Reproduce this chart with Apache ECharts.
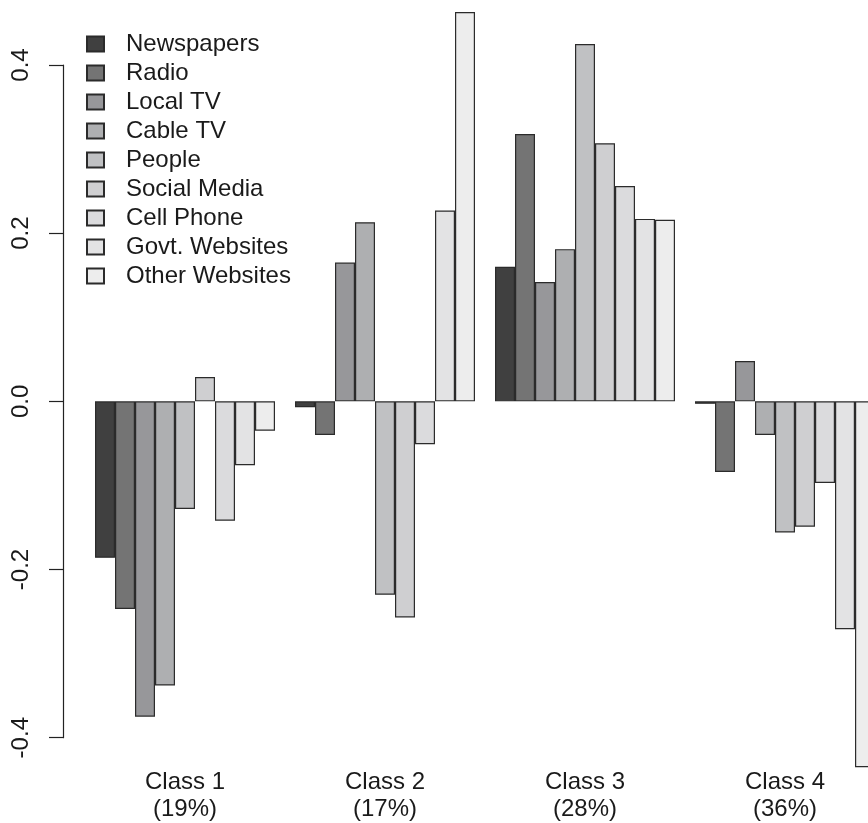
<!DOCTYPE html>
<html>
<head>
<meta charset="utf-8">
<script src="https://cdn.jsdelivr.net/npm/echarts@6/dist/echarts.min.js"></script>
<style>
html,body{margin:0;padding:0;background:#fff;}
#chart{width:868px;height:823px;}
</style>
</head>
<body>
<div id="chart"></div>
<script>
const categories = ["Class 1\n(19%)", "Class 2\n(17%)", "Class 3\n(28%)", "Class 4\n(36%)"];
const sources = ["Newspapers", "Radio", "Local TV", "Cable TV", "People", "Social Media", "Cell Phone", "Govt. Websites", "Other Websites"];
const newspapers    = [-0.186, -0.007, 0.160, -0.003];
const radio         = [-0.247, -0.040, 0.318, -0.084];
const localTV       = [-0.375, 0.165, 0.142, 0.048];
const cableTV       = [-0.338, 0.213, 0.181, -0.040];
const people        = [-0.128, -0.230, 0.425, -0.156];
const socialMedia   = [0.029, -0.257, 0.307, -0.149];
const cellPhone     = [-0.142, -0.051, 0.256, -0.097];
const govtWebsites  = [-0.076, 0.227, 0.217, -0.271];
const otherWebsites = [-0.035, 0.463, 0.216, -0.435];
const yTicks = [-0.4, -0.2, 0.0, 0.2, 0.4];

const seriesValues = [newspapers, radio, localTV, cableTV, people, socialMedia, cellPhone, govtWebsites, otherWebsites];
const colors = ["#404040", "#747474", "#97979a", "#aeafb1", "#c0c1c3", "#cfcfd1", "#dbdbdd", "#e3e3e4", "#ededed"];

const font = "Liberation Sans, Arial, Helvetica, sans-serif";
const chart = echarts.init(document.getElementById('chart'), null, {renderer: 'canvas'});
chart.setOption({
  animation: false,
  backgroundColor: '#ffffff',
  color: colors,
  legend: {
    orient: 'vertical',
    left: 81,
    top: 27,
    icon: 'rect',
    itemWidth: 17,
    itemHeight: 15,
    itemGap: 5,
    data: sources,
    textStyle: {fontFamily: font, fontSize: 24, color: '#1a1a1a', lineHeight: 24, padding: [0, 0, 0, 17]}
  },
  grid: {left: 85, top: 65, width: 800, height: 672.7, containLabel: false, outerBoundsMode: 'none'},
  xAxis: {
    type: 'category',
    data: categories,
    axisLine: {show: false},
    axisTick: {show: false},
    axisLabel: {fontFamily: font, fontSize: 24, color: '#1a1a1a', margin: 31, lineHeight: 27, interval: 0}
  },
  yAxis: {
    type: 'value',
    min: yTicks[0],
    max: yTicks[yTicks.length - 1],
    interval: 0.2,
    offset: 22,
    axisLine: {show: true, lineStyle: {color: '#222', width: 1.2}},
    axisTick: {show: true, length: 14, lineStyle: {color: '#222', width: 1.2}},
    splitLine: {show: false},
    axisLabel: {
      fontFamily: font, fontSize: 24, color: '#1a1a1a', rotate: 90, margin: 30,
      formatter: v => v.toFixed(1)
    }
  },
  series: sources.map((name, i) => ({
    name: name,
    type: 'bar',
    data: seriesValues[i],
    barGap: '0%',
    barCategoryGap: '10%',
    clip: false,
    itemStyle: {color: colors[i], borderColor: '#2b2b2b', borderWidth: 1.2}
  }))
});
</script>
</body>
</html>
